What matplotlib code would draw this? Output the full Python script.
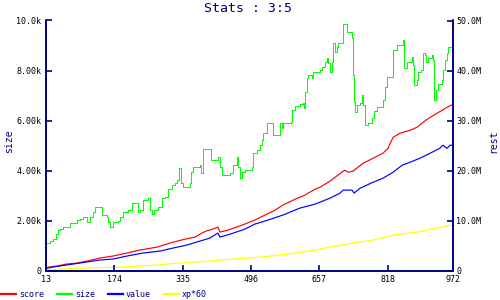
import matplotlib
matplotlib.use("Agg")
import matplotlib.pyplot as plt

navy = "#000080"

# size (left axis, units)
size_x = [13, 22, 30, 37, 41, 46, 53, 70, 86, 93, 100, 110, 117, 124, 128, 145, 157, 159, 164, 171,
	183, 187, 194, 206, 216, 230, 234, 242, 253, 258, 263, 268, 277, 286, 293, 300, 310, 317, 322, 326,
	331, 336, 352, 355, 359, 376, 378, 383, 402, 418, 423, 428, 447, 454, 463, 465, 470, 475, 482, 498,
	501, 510, 517, 522, 524, 534, 548, 560, 564, 569, 571, 590, 593, 600, 611, 619, 621, 623, 628, 630,
	640, 642, 659, 663, 670, 675, 677, 682, 687, 689, 694, 699, 701, 713, 722, 734, 736, 739, 741, 746,
	753, 758, 760, 765, 772, 781, 786, 793, 807, 812, 816, 831, 840, 854, 857, 864, 875, 878, 880, 887,
	889, 897, 901, 906, 908, 913, 922, 925, 927, 932, 937, 946, 948, 953, 958, 960, 972]
size_vals = [1116, 1195, 1275, 1474, 1633, 1673, 1753, 1912, 2032, 2072, 2151, 1952, 2151, 2351, 2550, 2231, 2151, 1952, 1753, 1952,
	1992, 2151, 2351, 2430, 2709, 2351, 2430, 2829, 2908, 2430, 2271, 2430, 2550, 2908, 2948, 3267, 3426, 3506, 3625, 4104,
	3506, 3347, 3506, 3944, 4143, 4223, 3904, 4860, 4422, 4542, 4143, 3825, 3904, 4223, 4542, 4143, 3705, 3944, 4024, 4143,
	4701, 4821, 5020, 5219, 5498, 5896, 5418, 5418, 5896, 5697, 5896, 5936, 6414, 6574, 6653, 6693, 6494, 7131, 7689, 7809,
	7700, 7928, 8008, 8127, 8327, 8486, 8287, 7928, 8327, 9084, 8725, 8924, 9084, 9880, 9522, 9283, 7809, 6733, 6335, 6613,
	6693, 7012, 6613, 5817, 5896, 6096, 6374, 6534, 6813, 7331, 7729, 8805, 9004, 9203, 8088, 8327, 8526, 8207, 7410, 7609,
	7928, 8008, 8685, 8605, 8327, 8486, 8605, 8406, 6813, 7211, 7450, 7609, 8008, 8406, 8685, 8924, 8924]

# score (right axis, millions)
score_x = [13, 39, 62, 86, 110, 140, 171, 204, 234, 275, 305, 341, 364, 376, 390, 406, 418, 423, 442, 475,
	505, 524, 553, 571, 600, 623, 647, 659, 682, 710, 717, 725, 736, 760, 784, 807, 819, 824, 831, 847,
	871, 887, 911, 934, 958, 972]
score_vals = [0.70, 1.00, 1.39, 1.59, 1.99, 2.59, 2.99, 3.59, 4.18, 4.78, 5.58, 6.37, 6.77, 7.37, 7.97, 8.37, 8.76, 7.77, 8.17, 9.16,
	10.16, 10.96, 12.15, 13.15, 14.34, 15.14, 16.33, 16.73, 17.93, 19.72, 20.12, 19.72, 19.92, 21.51, 22.51, 23.51, 24.50, 25.50, 26.69, 27.49,
	28.09, 28.68, 30.28, 31.47, 32.67, 33.27]

# value (right axis, millions)
value_x = [13, 30, 62, 93, 140, 171, 204, 242, 282, 312, 345, 376, 399, 418, 423, 451, 482, 505, 536, 571,
	611, 647, 682, 706, 713, 734, 739, 753, 784, 807, 831, 852, 871, 894, 918, 941, 948, 958, 965, 972]
value_vals = [0.50, 0.80, 1.20, 1.59, 2.19, 2.39, 2.99, 3.59, 3.98, 4.58, 5.18, 5.98, 6.57, 7.57, 6.77, 7.47, 8.37, 9.36, 10.16, 11.16,
	12.55, 13.35, 14.54, 15.54, 16.14, 16.14, 15.54, 16.53, 17.73, 18.53, 19.72, 21.12, 21.71, 22.51, 23.51, 24.50, 25.10, 24.50, 25.10, 25.10]

# xp*60 (right axis, millions)
xp_x = [13, 39, 81, 180, 234, 277, 312, 381, 442, 522, 583, 647, 682, 736, 784, 831, 887, 934, 958, 972]
xp_vals = [0.06, 0.34, 0.54, 0.74, 1.00, 1.20, 1.49, 1.89, 2.29, 2.79, 3.39, 4.18, 4.78, 5.58, 6.18, 7.17, 7.77, 8.57, 9.06, 9.16]

x_ticks = [13, 174, 335, 496, 657, 818, 972]
left_ticks = [0, 2000, 4000, 6000, 8000, 10000]
left_labels = ["0", "2.00k", "4.00k", "6.00k", "8.00k", "10.0k"]
right_ticks = [0, 10, 20, 30, 40, 50]
right_labels = ["0", "10.0M", "20.0M", "30.0M", "40.0M", "50.0M"]

plt.rcParams["font.family"] = "DejaVu Sans Mono"

fig = plt.figure(figsize=(5, 3), dpi=100)
ax = fig.add_axes([46 / 500, 29 / 300, 407 / 500, 250.5 / 300])
ax2 = ax.twinx()

l_size, = ax.plot(size_x, size_vals, color="#00ff00", linewidth=0.55, drawstyle="steps-post", antialiased=False, label="size")
l_score, = ax2.plot(score_x, score_vals, color="#ff0000", linewidth=0.85, label="score")
l_value, = ax2.plot(value_x, value_vals, color="#0000ff", linewidth=0.85, label="value")
l_xp, = ax2.plot(xp_x, xp_vals, color="#ffff00", linewidth=0.9, label="xp*60")
ax.set_zorder(ax2.get_zorder() + 1)
ax.patch.set_visible(False)

ax.set_xlim(13, 972)
ax.set_ylim(0, 10000)
ax2.set_ylim(0, 50)

for a in (ax, ax2):
	a.spines["top"].set_visible(False)
	for s in ("left", "right", "bottom"):
		a.spines[s].set_color(navy)
		a.spines[s].set_linewidth(1.2)

ax.set_xticks(x_ticks)
ax.set_xticklabels([str(v) for v in x_ticks])
ax.set_yticks(left_ticks)
ax.set_yticklabels(left_labels)
ax2.set_yticks(right_ticks)
ax2.set_yticklabels(right_labels)

ax.tick_params(axis="x", direction="in", length=4, width=1.2, color=navy, labelsize=6, pad=3)
ax.tick_params(axis="y", direction="in", length=4, width=1.2, color=navy, labelsize=6, pad=3.5)
ax2.tick_params(axis="y", direction="in", length=4, width=1.2, color=navy, labelsize=6, pad=2.5)

# axis titles placed by hand, like the original
fig.text(9 / 500, 1 - 141 / 300, "size", color=navy, fontsize=7, rotation=90, ha="center", va="center")
fig.text(493 / 500, 1 - 141 / 300, "rest", color=navy, fontsize=7, rotation=90, ha="center", va="center")

fig.text(0.497, 0.973, "Stats : 3:5", color=navy, fontsize=9.5, ha="center", va="center")

leg = fig.legend(handles=[l_score, l_size, l_value, l_xp], loc="center left", bbox_to_anchor=(0.002, 0.017),
	ncol=4, frameon=False, fontsize=6, handlelength=1.8, handletextpad=0.4, columnspacing=1.5, borderpad=0, borderaxespad=0)
for t in leg.get_texts():
	t.set_color(navy)
for h in leg.legend_handles:
	h.set_linewidth(1.6)

fig.savefig("out.png", dpi=100)
